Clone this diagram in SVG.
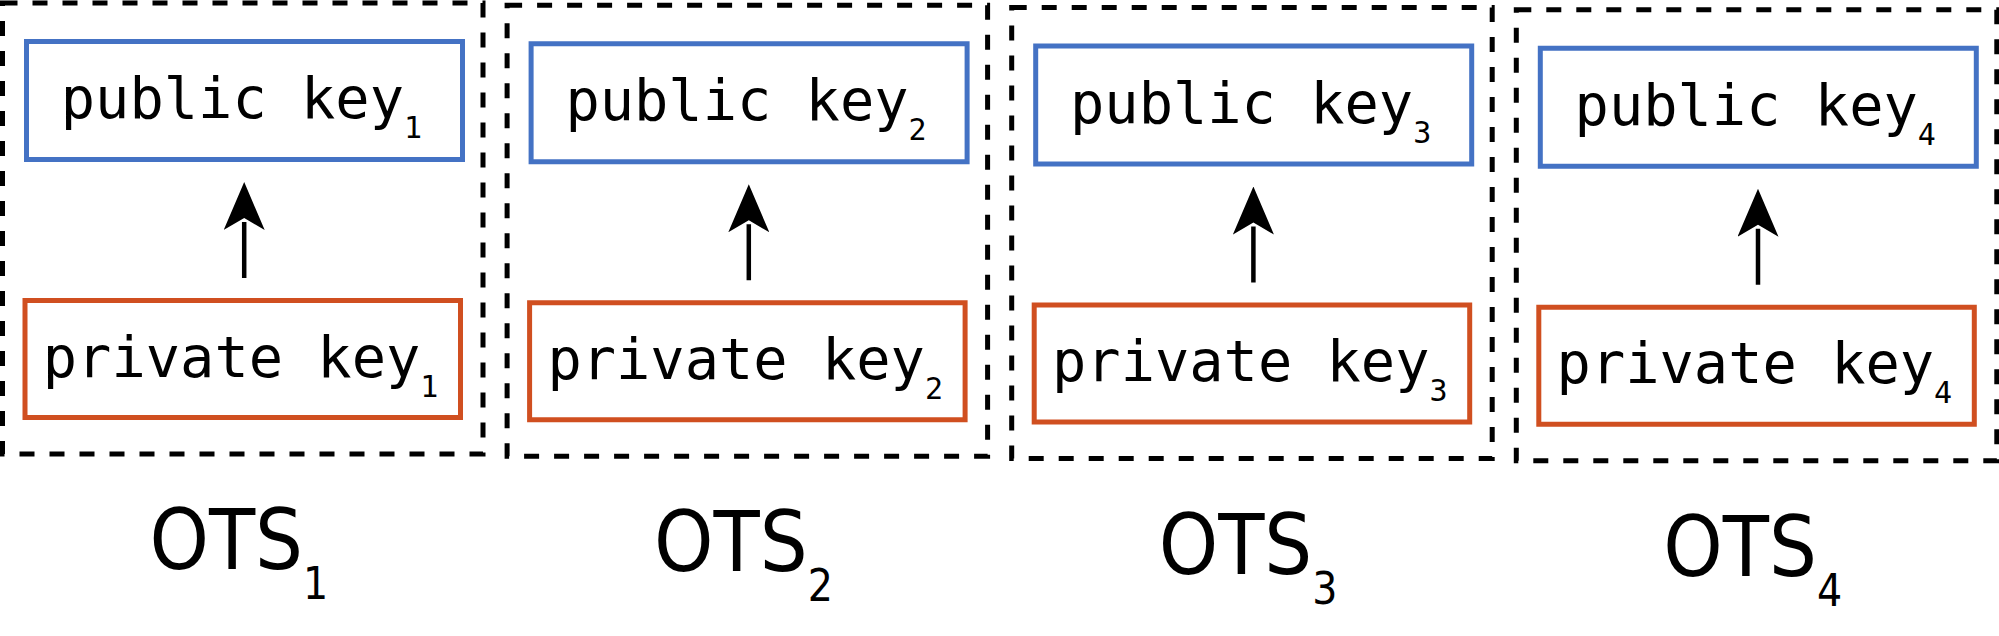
<svg xmlns="http://www.w3.org/2000/svg" width="1999" height="636" viewBox="0 0 1999 636">
<style>
.frame{fill:none;stroke:#000;stroke-width:5;stroke-dasharray:15 15}
.pub{fill:#fff;stroke:#4472C4;stroke-width:5}
.priv{fill:#fff;stroke:#D04F20;stroke-width:5}
.key{font-family:'DejaVu Sans Mono','Liberation Mono',monospace;font-size:57px;fill:#000}
.ksub{font-size:30px}
.ots{font-family:'DejaVu Sans Condensed','DejaVu Sans',sans-serif;font-stretch:condensed;font-size:84px;fill:#000}
.osub{font-size:44px}
.arrow{stroke:#000;stroke-width:4.5;fill:none;marker-end:url(#ah)}
</style>
<defs>
<marker id="ah" viewBox="0 0 48 41" markerWidth="48" markerHeight="41" refX="8" refY="20.5" orient="auto" markerUnits="userSpaceOnUse">
<path d="M0,0 L48,20.5 L0,41 L12,20.5 z" fill="#000"/>
</marker>
</defs>
<g id="ots1"><rect class="frame" x="2.5" y="3" width="480.5" height="451"/><text class="ots" x="149.5" y="569">OTS<tspan class="osub" dy="30">1</tspan></text></g>
<g id="ots2"><rect class="frame" x="507.1" y="5.25" width="480.5" height="451"/><text class="ots" x="654.1" y="571.25">OTS<tspan class="osub" dy="30">2</tspan></text></g>
<g id="ots3"><rect class="frame" x="1011.7" y="7.5" width="480.5" height="451"/><text class="ots" x="1158.7" y="573.5">OTS<tspan class="osub" dy="30">3</tspan></text></g>
<g id="ots4"><rect class="frame" x="1516.3" y="9.75" width="480.5" height="451"/><text class="ots" x="1663.3" y="575.75">OTS<tspan class="osub" dy="30">4</tspan></text></g>
<g id="pub1"><rect class="pub" x="26.5" y="41.5" width="436" height="118"/><text class="key" x="60.8" y="118">public key<tspan class="ksub" dy="20">1</tspan></text></g>
<g id="pub2"><rect class="pub" x="531.1" y="43.75" width="436" height="118"/><text class="key" x="565.4" y="120.25">public key<tspan class="ksub" dy="20">2</tspan></text></g>
<g id="pub3"><rect class="pub" x="1035.7" y="46" width="436" height="118"/><text class="key" x="1070" y="122.5">public key<tspan class="ksub" dy="20">3</tspan></text></g>
<g id="pub4"><rect class="pub" x="1540.3" y="48.25" width="436" height="118"/><text class="key" x="1574.6" y="124.75">public key<tspan class="ksub" dy="20">4</tspan></text></g>
<g id="priv1"><rect class="priv" x="25" y="300.5" width="435.5" height="117"/><text class="key" x="42.8" y="376.5">private key<tspan class="ksub" dy="20">1</tspan></text></g>
<g id="priv2"><rect class="priv" x="529.6" y="302.75" width="435.5" height="117"/><text class="key" x="547.4" y="378.75">private key<tspan class="ksub" dy="20">2</tspan></text></g>
<g id="priv3"><rect class="priv" x="1034.2" y="305" width="435.5" height="117"/><text class="key" x="1052" y="381">private key<tspan class="ksub" dy="20">3</tspan></text></g>
<g id="priv4"><rect class="priv" x="1538.8" y="307.25" width="435.5" height="117"/><text class="key" x="1556.6" y="383.25">private key<tspan class="ksub" dy="20">4</tspan></text></g>
<g id="connectors">
<line class="arrow" x1="244.2" y1="278" x2="244.2" y2="222"/>
<line class="arrow" x1="748.8" y1="280.25" x2="748.8" y2="224.25"/>
<line class="arrow" x1="1253.4" y1="282.5" x2="1253.4" y2="226.5"/>
<line class="arrow" x1="1758" y1="284.75" x2="1758" y2="228.75"/>
</g>
</svg>
